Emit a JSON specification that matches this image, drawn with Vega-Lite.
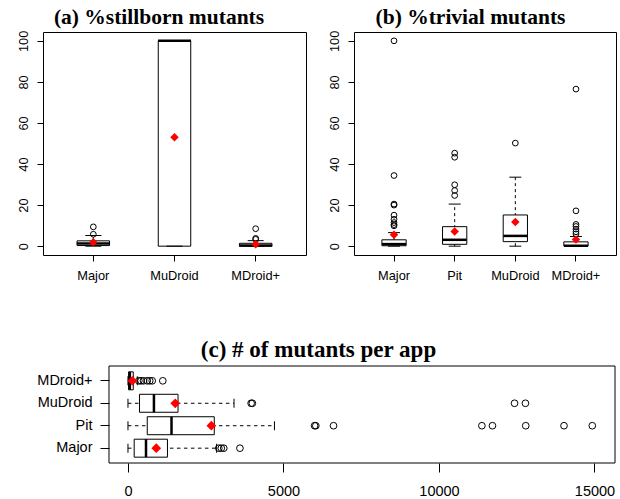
{
  "$schema": "https://vega.github.io/schema/vega-lite/v6.json",
  "padding": {"left": 0, "top": 6, "right": 0, "bottom": 0},
  "config": {
    "view": {"stroke": "black", "strokeWidth": 1},
    "axis": {"domain": false, "grid": false, "tickColor": "black", "labelColor": "black", "labelFont": "Liberation Sans", "labelFlush": false, "labelOverlap": false, "tickWidth": 1},
    "title": {"font": "Liberation Serif", "fontWeight": "bold", "color": "black", "frame": "group", "anchor": "middle"}
  },
  "datasets": {
    "statsA": [
      {"g": "Major", "lo": 0, "q1": 0.3, "med": 1.3, "q3": 2.6, "hi": 5.2, "mean": 1.9},
      {"g": "MuDroid", "lo": 0, "q1": 0, "med": 100, "q3": 100, "hi": 100, "mean": 53.1},
      {"g": "MDroid+", "lo": 0, "q1": 0, "med": 0.3, "q3": 1.4, "hi": 2.7, "mean": 0.9}
    ],
    "outA": [
      {"g": "Major", "v": 5.8}, {"g": "Major", "v": 9.4},
      {"g": "MDroid+", "v": 3.3}, {"g": "MDroid+", "v": 3.8}, {"g": "MDroid+", "v": 8.5}
    ],
    "statsB": [
      {"g": "Major", "lo": 0, "q1": 0.2, "med": 1.0, "q3": 3.1, "hi": 6.6, "mean": 5.6},
      {"g": "Pit", "lo": 0, "q1": 0.9, "med": 3.1, "q3": 9.5, "hi": 20.5, "mean": 7.1},
      {"g": "MuDroid", "lo": 0, "q1": 2.2, "med": 5.0, "q3": 15.2, "hi": 33.6, "mean": 11.8},
      {"g": "MDroid+", "lo": 0, "q1": 0, "med": 0.2, "q3": 2.1, "hi": 4.7, "mean": 3.3}
    ],
    "outB": [
      {"g": "Major", "v": 9.9}, {"g": "Major", "v": 10.5}, {"g": "Major", "v": 11.5}, {"g": "Major", "v": 13.1}, {"g": "Major", "v": 15.1}, {"g": "Major", "v": 20.0}, {"g": "Major", "v": 20.5}, {"g": "Major", "v": 34.4}, {"g": "Major", "v": 100},
      {"g": "Pit", "v": 24.7}, {"g": "Pit", "v": 27.1}, {"g": "Pit", "v": 29.9}, {"g": "Pit", "v": 43.3}, {"g": "Pit", "v": 45.3},
      {"g": "MuDroid", "v": 50.2},
      {"g": "MDroid+", "v": 6.0}, {"g": "MDroid+", "v": 7.0}, {"g": "MDroid+", "v": 8.3}, {"g": "MDroid+", "v": 9.6}, {"g": "MDroid+", "v": 10.6}, {"g": "MDroid+", "v": 17.2}, {"g": "MDroid+", "v": 76.5}
    ],
    "statsC": [
      {"g": "Major", "lo": 0, "q1": 200, "med": 580, "q3": 1270, "hi": 2850, "mean": 910},
      {"g": "Pit", "lo": 0, "q1": 620, "med": 1400, "q3": 2775, "hi": 4710, "mean": 2680},
      {"g": "MuDroid", "lo": 0, "q1": 370, "med": 835, "q3": 1610, "hi": 3410, "mean": 1520},
      {"g": "MDroid+", "lo": 0, "q1": 20, "med": 60, "q3": 170, "hi": 300, "mean": 140}
    ],
    "outC": [
      {"g": "Major", "v": 2920}, {"g": "Major", "v": 3000}, {"g": "Major", "v": 3080}, {"g": "Major", "v": 3600},
      {"g": "Pit", "v": 6000}, {"g": "Pit", "v": 6040}, {"g": "Pit", "v": 6610}, {"g": "Pit", "v": 11380}, {"g": "Pit", "v": 11720}, {"g": "Pit", "v": 12790}, {"g": "Pit", "v": 14020}, {"g": "Pit", "v": 14930},
      {"g": "MuDroid", "v": 3960}, {"g": "MuDroid", "v": 4000}, {"g": "MuDroid", "v": 12430}, {"g": "MuDroid", "v": 12780},
      {"g": "MDroid+", "v": 350}, {"g": "MDroid+", "v": 420}, {"g": "MDroid+", "v": 500}, {"g": "MDroid+", "v": 620}, {"g": "MDroid+", "v": 700}, {"g": "MDroid+", "v": 780}, {"g": "MDroid+", "v": 1120}
    ]
  },
  "spacing": 55,
  "vconcat": [
    {
      "spacing": 16,
      "hconcat": [
        {
          "width": 263, "height": 223,
          "title": {"text": "(a) %stillborn mutants", "fontSize": 21.5, "offset": 2, "dx": -15.5},
          "encoding": {
            "x": {"field": "g", "type": "nominal", "sort": ["Major", "MuDroid", "MDroid+"], "title": null,
                  "scale": {"type": "band", "paddingInner": 0, "paddingOuter": 0.12},
                  "axis": {"labelAngle": 0, "tickSize": 6, "labelPadding": 8, "labelFontSize": 12.8}}
          },
          "layer": [
            {"data": {"name": "statsA"}, "mark": {"type": "rule", "strokeDash": [3, 3], "color": "black"},
             "encoding": {"y": {"field": "lo", "type": "quantitative", "title": null,
                                "scale": {"domain": [-4.3, 104.3], "nice": false, "zero": false},
                                "axis": {"values": [0, 20, 40, 60, 80, 100], "labelAngle": 270, "labelAlign": "center", "labelBaseline": "alphabetic", "tickSize": 6, "labelPadding": 10, "labelFontSize": 12.8, "minExtent": 42, "maxExtent": 42}},
                          "y2": {"field": "hi"}}},
            {"data": {"name": "statsA"}, "mark": {"type": "bar", "fill": "white", "stroke": "black", "strokeWidth": 1, "width": {"band": 0.4}},
             "encoding": {"y": {"field": "q1", "type": "quantitative", "title": null}, "y2": {"field": "q3"}}},
            {"data": {"name": "statsA"}, "mark": {"type": "tick", "color": "black", "size": 33, "thickness": 2.5, "opacity": 1},
             "encoding": {"y": {"field": "med", "type": "quantitative", "title": null}}},
            {"data": {"name": "statsA"}, "mark": {"type": "tick", "color": "black", "size": 16, "thickness": 1, "opacity": 1},
             "encoding": {"y": {"field": "lo", "type": "quantitative", "title": null}}},
            {"data": {"name": "statsA"}, "mark": {"type": "tick", "color": "black", "size": 16, "thickness": 1, "opacity": 1},
             "encoding": {"y": {"field": "hi", "type": "quantitative", "title": null}}},
            {"data": {"name": "outA"}, "mark": {"type": "point", "shape": "circle", "filled": false, "stroke": "black", "strokeWidth": 1, "size": 33, "opacity": 1},
             "encoding": {"y": {"field": "v", "type": "quantitative", "title": null}}},
            {"data": {"name": "statsA"}, "mark": {"type": "point", "shape": "diamond", "filled": true, "color": "#ff0000", "size": 72, "opacity": 1},
             "encoding": {"y": {"field": "mean", "type": "quantitative", "title": null}}}
          ]
        },
        {
          "width": 262, "height": 223,
          "title": {"text": "(b) %trivial mutants", "fontSize": 21.5, "offset": 2, "dx": -14.5},
          "encoding": {
            "x": {"field": "g", "type": "nominal", "sort": ["Major", "Pit", "MuDroid", "MDroid+"], "title": null,
                  "scale": {"type": "band", "paddingInner": 0, "paddingOuter": 0.16},
                  "axis": {"labelAngle": 0, "tickSize": 6, "labelPadding": 8, "labelFontSize": 12.8}}
          },
          "layer": [
            {"data": {"name": "statsB"}, "mark": {"type": "rule", "strokeDash": [3, 3], "color": "black"},
             "encoding": {"y": {"field": "lo", "type": "quantitative", "title": null,
                                "scale": {"domain": [-4.3, 104.3], "nice": false, "zero": false},
                                "axis": {"values": [0, 20, 40, 60, 80, 100], "labelAngle": 270, "labelAlign": "center", "labelBaseline": "alphabetic", "tickSize": 6, "labelPadding": 10, "labelFontSize": 12.8, "minExtent": 30, "maxExtent": 30}},
                          "y2": {"field": "hi"}}},
            {"data": {"name": "statsB"}, "mark": {"type": "bar", "fill": "white", "stroke": "black", "strokeWidth": 1, "width": {"band": 0.4}},
             "encoding": {"y": {"field": "q1", "type": "quantitative", "title": null}, "y2": {"field": "q3"}}},
            {"data": {"name": "statsB"}, "mark": {"type": "tick", "color": "black", "size": 24, "thickness": 2.5, "opacity": 1},
             "encoding": {"y": {"field": "med", "type": "quantitative", "title": null}}},
            {"data": {"name": "statsB"}, "mark": {"type": "tick", "color": "black", "size": 12, "thickness": 1, "opacity": 1},
             "encoding": {"y": {"field": "lo", "type": "quantitative", "title": null}}},
            {"data": {"name": "statsB"}, "mark": {"type": "tick", "color": "black", "size": 12, "thickness": 1, "opacity": 1},
             "encoding": {"y": {"field": "hi", "type": "quantitative", "title": null}}},
            {"data": {"name": "outB"}, "mark": {"type": "point", "shape": "circle", "filled": false, "stroke": "black", "strokeWidth": 1, "size": 33, "opacity": 1},
             "encoding": {"y": {"field": "v", "type": "quantitative", "title": null}}},
            {"data": {"name": "statsB"}, "mark": {"type": "point", "shape": "diamond", "filled": true, "color": "#ff0000", "size": 72, "opacity": 1},
             "encoding": {"y": {"field": "mean", "type": "quantitative", "title": null}}}
          ]
        }
      ]
    },
    {
      "width": 572, "height": 97,
      "view": {"stroke": null},
      "title": {"text": "(c) # of mutants per app", "fontSize": 23, "offset": 4, "dx": -10.5},
      "layer": [
        {"data": {"values": [{}]}, "mark": {"type": "rect", "fill": "transparent", "stroke": "black", "strokeWidth": 1},
         "encoding": {"x": {"datum": -610, "type": "quantitative", "title": null,
                            "scale": {"domain": [-2732, 15660], "nice": false, "zero": false},
                            "axis": {"values": [0, 5000, 10000, 15000], "format": "d", "tickSize": 9, "labelPadding": 12.5, "labelFontSize": 14.5}},
                      "x2": {"datum": 15660}}},
        {"data": {"name": "statsC"}, "mark": {"type": "rule", "strokeDash": [3.5, 3.5], "color": "black"},
         "encoding": {"y": {"field": "g", "type": "nominal", "sort": ["MDroid+", "MuDroid", "Pit", "Major"], "title": null,
                            "scale": {"type": "band", "paddingInner": 0, "paddingOuter": 0.16},
                            "axis": {"offset": -66, "tickSize": 9, "labelPadding": 8, "labelFontSize": 14.5, "labelAlign": "right", "labelBaseline": "middle"}},
                      "x": {"field": "lo", "type": "quantitative", "title": null}, "x2": {"field": "hi"}}},
        {"data": {"name": "statsC"}, "mark": {"type": "bar", "fill": "white", "stroke": "black", "strokeWidth": 1, "height": {"band": 0.8}},
         "encoding": {"y": {"field": "g", "type": "nominal", "sort": ["MDroid+", "MuDroid", "Pit", "Major"], "title": null},
                      "x": {"field": "q1", "type": "quantitative", "title": null}, "x2": {"field": "q3"}}},
        {"data": {"name": "statsC"}, "mark": {"type": "tick", "color": "black", "size": 18, "thickness": 2.5, "opacity": 1},
         "encoding": {"y": {"field": "g", "type": "nominal", "sort": ["MDroid+", "MuDroid", "Pit", "Major"], "title": null},
                      "x": {"field": "med", "type": "quantitative", "title": null}}},
        {"data": {"name": "statsC"}, "mark": {"type": "tick", "color": "black", "size": 9, "thickness": 1, "opacity": 1},
         "encoding": {"y": {"field": "g", "type": "nominal", "sort": ["MDroid+", "MuDroid", "Pit", "Major"], "title": null},
                      "x": {"field": "lo", "type": "quantitative", "title": null}}},
        {"data": {"name": "statsC"}, "mark": {"type": "tick", "color": "black", "size": 9, "thickness": 1, "opacity": 1},
         "encoding": {"y": {"field": "g", "type": "nominal", "sort": ["MDroid+", "MuDroid", "Pit", "Major"], "title": null},
                      "x": {"field": "hi", "type": "quantitative", "title": null}}},
        {"data": {"name": "outC"}, "mark": {"type": "point", "shape": "circle", "filled": false, "stroke": "black", "strokeWidth": 1, "size": 45, "opacity": 1},
         "encoding": {"y": {"field": "g", "type": "nominal", "sort": ["MDroid+", "MuDroid", "Pit", "Major"], "title": null},
                      "x": {"field": "v", "type": "quantitative", "title": null}}},
        {"data": {"name": "statsC"}, "mark": {"type": "point", "shape": "diamond", "filled": true, "color": "#ff0000", "size": 95, "opacity": 1},
         "encoding": {"y": {"field": "g", "type": "nominal", "sort": ["MDroid+", "MuDroid", "Pit", "Major"], "title": null},
                      "x": {"field": "mean", "type": "quantitative", "title": null}}}
      ]
    }
  ]
}
